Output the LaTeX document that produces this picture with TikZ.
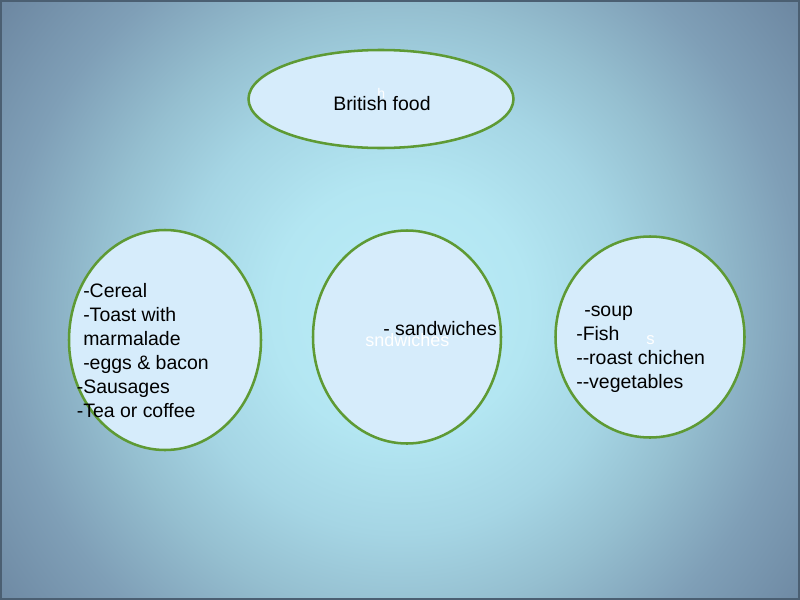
\documentclass[tikz,border=0pt]{standalone}
\usepackage{fontspec}
\setmainfont{Liberation Sans}[Ligatures=TeXOff]
\usetikzlibrary{shapes.geometric,positioning}

\definecolor{glowc}{HTML}{BBEDF7}
\definecolor{glowb}{HTML}{B3E6F2}
\definecolor{midc}{HTML}{A5D5E4}
\definecolor{outc}{HTML}{95BFD0}
\definecolor{edgec}{HTML}{7F9FB7}
\definecolor{cornerc}{HTML}{6E89A3}
\definecolor{leafgreen}{HTML}{5E9A34}
\definecolor{bubblefill}{HTML}{D6ECFB}
\definecolor{framec}{HTML}{4B5F72}

% path half size <-> 25bp
\pgfdeclareradialshading{bgglow}{\pgfpoint{0bp}{0bp}}{%
  color(0bp)=(glowc); color(8bp)=(glowb); color(14bp)=(midc);
  color(19bp)=(outc); color(25bp)=(edgec); color(31bp)=(cornerc); color(40bp)=(cornerc)}

\tikzset{
  bubble/.style={ellipse,draw=leafgreen,line width=1.9pt,fill=bubblefill,inner sep=0pt},
  listtxt/.style={anchor=base west,align=left,inner sep=0pt,text=black,
    font=\fontsize{14.6}{17.9}\selectfont},
  ghost/.style={anchor=base west,inner sep=0pt,text=white,
    font=\fontsize{13.5}{16}\selectfont}
}

\begin{document}
\begin{tikzpicture}[x=0.75pt,y=-0.75pt]
  \useasboundingbox (0,0) rectangle (800,600);
  \begin{scope}
    \clip (0,0) rectangle (800,600);
    \shade[shading=bgglow] (0,-90) rectangle (800,710); % glow in the middle
  \end{scope}
  \draw[framec,line width=1.5pt] (1,1) rectangle (799,599);

  % the four bubbles
  \node[bubble,minimum width=198.75pt,minimum height=73.5pt] (food) at (381,99) {};
  \node[bubble,minimum width=144pt,minimum height=165pt] (breakfast) at (165,340) {};
  \node[bubble,minimum width=141pt,minimum height=159.75pt] (lunch) at (407,337) {};
  \node[bubble,minimum width=141.75pt,minimum height=150.75pt] (dinner) at (650,337) {};

  % white leftovers
  \node[ghost,font=\fontsize{10.5}{12}\selectfont] (foodghost) at (377,98) {h};
  \node[ghost] (lunchghost) at (365,346) {sndwiches};
  \node[ghost,font=\fontsize{12.5}{14}\selectfont] (dinnerghost) at (646,344) {s};

  % texts (base = last line)
  \node[listtxt] (foodtxt) at (333,110) {British food};
  \node[listtxt] (breakfasttxt) at (83,417) {-Cereal\\-Toast with\\marmalade\\-eggs \& bacon\\
    \llap{-}Sausages\\\llap{-}Tea or coffee};
  \node[listtxt] (lunchtxt) at (383,335) {- sandwiches};
  \node[listtxt] (dinnertxt) at (576,388) {\hspace*{6pt}-soup\\-Fish\\--roast chichen\\--vegetables};
\end{tikzpicture}
\end{document}
